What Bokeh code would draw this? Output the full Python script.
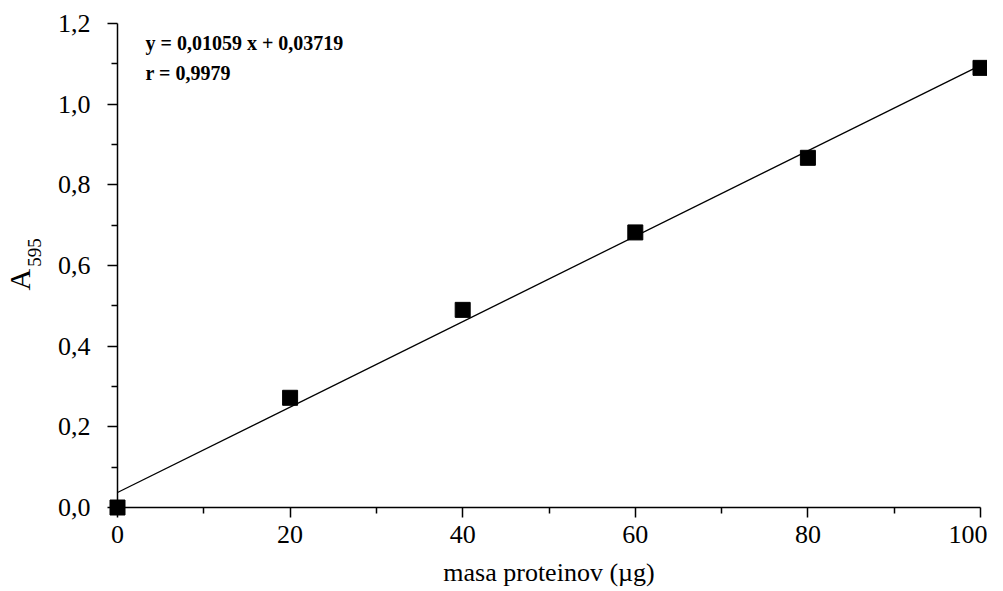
import math
from bokeh.plotting import figure
from bokeh.models import (FixedTicker, CustomJSTickFormatter, Label, Range1d)
from bokeh.core.properties import value
from bokeh.embed import file_html
from bokeh.resources import INLINE

# data
mass_ug = [0, 20, 40, 60, 80, 100]
absorbance = [0.0, 0.272, 0.490, 0.682, 0.867, 1.090]
slope = 0.01059
intercept = 0.03719
fit_x = [0, 100]
fit_y = [intercept + slope * v for v in fit_x]
x_ticks = [0, 20, 40, 60, 80, 100]
x_minor = [10, 30, 50, 70, 90]
y_ticks = [0.0, 0.2, 0.4, 0.6, 0.8, 1.0, 1.2]
y_minor = [0.1, 0.3, 0.5, 0.7, 0.9, 1.1]
eq_text = "y = 0,01059 x + 0,03719"
r_text = "r = 0,9979"
x_title = "masa proteinov (\u00b5g)"
y_title = "A"
y_title_sub = "595"

SERIF = "Liberation Serif"

p = figure(width=987, height=591, output_backend="svg", toolbar_location=None,
           x_range=Range1d(0, 100), y_range=Range1d(0, 1.2),
           min_border_left=117, min_border_right=7, min_border_top=23,
           min_border_bottom=84)
p.outline_line_color = None
p.xgrid.visible = False
p.ygrid.visible = False
p.background_fill_color = "white"
p.border_fill_color = "white"

fit = p.line(fit_x, fit_y, line_color="black", line_width=1.3)
pts = p.scatter(mass_ug, absorbance, marker="square", size=15,
                fill_color="black", line_color="black")
pts.level = "overlay"

for ax in (p.xaxis[0], p.yaxis[0]):
    ax.axis_line_width = 1.5
    ax.major_tick_line_width = 1.5
    ax.minor_tick_line_width = 1.5
    ax.major_tick_out = 10
    ax.major_tick_in = 0
    ax.minor_tick_out = 6
    ax.minor_tick_in = 0
    ax.major_label_text_font = SERIF
    ax.major_label_text_font_size = "26px"
    ax.major_label_text_color = "black"
    ax.axis_label_text_font = SERIF
    ax.axis_label_text_font_style = "normal"
    ax.axis_label_text_color = "black"

p.xaxis.ticker = FixedTicker(ticks=x_ticks, minor_ticks=x_minor)
p.yaxis.ticker = FixedTicker(ticks=y_ticks, minor_ticks=y_minor)
p.yaxis.formatter = CustomJSTickFormatter(code="return tick.toFixed(1).replace('.', ',');")
p.xaxis.formatter = CustomJSTickFormatter(code="return Math.round(tick).toString();")
p.xaxis.major_label_standoff = 8
p.yaxis.major_label_standoff = 17
p.xaxis.axis_label = x_title
p.xaxis.axis_label_text_font_size = "26px"
p.xaxis.axis_label_standoff = 12

# y-axis title A_595 (drawn as rotated text outside the frame)
ta = p.text(x=[-11.3], y=[0.565], text=[y_title], angle=math.pi / 2,
            text_align="center", text_baseline="middle",
            text_font=value(SERIF), text_font_size="30px", text_color="black")
ts = p.text(x=[-9.6], y=[0.632], text=[y_title_sub], angle=math.pi / 2,
            text_align="center", text_baseline="middle",
            text_font=value(SERIF), text_font_size="19px", text_color="black")
ta.level = "overlay"
ts.level = "overlay"

# equation
p.add_layout(Label(x=28, y=465, x_units="screen", y_units="screen", text=eq_text,
                   text_align="left", text_baseline="alphabetic",
                   text_font=SERIF, text_font_style="bold", text_font_size="20px",
                   text_color="black"))
p.add_layout(Label(x=28, y=435, x_units="screen", y_units="screen", text=r_text,
                   text_align="left", text_baseline="alphabetic",
                   text_font=SERIF, text_font_style="bold", text_font_size="20px",
                   text_color="black"))

open("out.html", "w").write(file_html(p, INLINE))
